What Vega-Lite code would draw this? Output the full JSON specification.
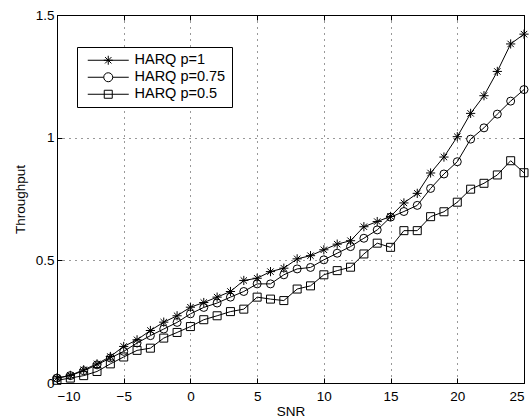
{
  "$schema": "https://vega.github.io/schema/vega-lite/v6.json",
  "autosize": "none",
  "width": 467,
  "height": 368,
  "padding": {"left": 57, "top": 15, "right": 8, "bottom": 37},
  "config": {
    "view": {"stroke": "black", "strokeWidth": 1},
    "font": "Liberation Sans",
    "axis": {
      "domainColor": "black",
      "tickColor": "black",
      "tickSize": -5,
      "labelColor": "black",
      "labelFontSize": 13.5,
      "labelFont": "Liberation Sans",
      "titleFont": "Liberation Sans",
      "titleFontSize": 13.5,
      "titleFontWeight": "normal",
      "titleColor": "black",
      "gridColor": "#333",
      "gridDash": [1, 5],
      "gridWidth": 1
    }
  },
  "data": {
    "values": [
      {"series": "HARQ p=1", "snr": -10, "throughput": 0.02},
      {"series": "HARQ p=1", "snr": -9, "throughput": 0.031},
      {"series": "HARQ p=1", "snr": -8, "throughput": 0.054},
      {"series": "HARQ p=1", "snr": -7, "throughput": 0.078},
      {"series": "HARQ p=1", "snr": -6, "throughput": 0.108},
      {"series": "HARQ p=1", "snr": -5, "throughput": 0.149},
      {"series": "HARQ p=1", "snr": -4, "throughput": 0.176},
      {"series": "HARQ p=1", "snr": -3, "throughput": 0.214},
      {"series": "HARQ p=1", "snr": -2, "throughput": 0.248},
      {"series": "HARQ p=1", "snr": -1, "throughput": 0.274},
      {"series": "HARQ p=1", "snr": 0, "throughput": 0.309},
      {"series": "HARQ p=1", "snr": 1, "throughput": 0.328},
      {"series": "HARQ p=1", "snr": 2, "throughput": 0.35},
      {"series": "HARQ p=1", "snr": 3, "throughput": 0.373},
      {"series": "HARQ p=1", "snr": 4, "throughput": 0.418},
      {"series": "HARQ p=1", "snr": 5, "throughput": 0.427},
      {"series": "HARQ p=1", "snr": 6, "throughput": 0.454},
      {"series": "HARQ p=1", "snr": 7, "throughput": 0.468},
      {"series": "HARQ p=1", "snr": 8, "throughput": 0.506},
      {"series": "HARQ p=1", "snr": 9, "throughput": 0.519},
      {"series": "HARQ p=1", "snr": 10, "throughput": 0.543},
      {"series": "HARQ p=1", "snr": 11, "throughput": 0.566},
      {"series": "HARQ p=1", "snr": 12, "throughput": 0.58},
      {"series": "HARQ p=1", "snr": 13, "throughput": 0.637},
      {"series": "HARQ p=1", "snr": 14, "throughput": 0.658},
      {"series": "HARQ p=1", "snr": 15, "throughput": 0.679},
      {"series": "HARQ p=1", "snr": 16, "throughput": 0.734},
      {"series": "HARQ p=1", "snr": 17, "throughput": 0.773},
      {"series": "HARQ p=1", "snr": 18, "throughput": 0.856},
      {"series": "HARQ p=1", "snr": 19, "throughput": 0.921},
      {"series": "HARQ p=1", "snr": 20, "throughput": 1.004},
      {"series": "HARQ p=1", "snr": 21, "throughput": 1.099},
      {"series": "HARQ p=1", "snr": 22, "throughput": 1.171},
      {"series": "HARQ p=1", "snr": 23, "throughput": 1.27},
      {"series": "HARQ p=1", "snr": 24, "throughput": 1.382},
      {"series": "HARQ p=1", "snr": 25, "throughput": 1.422},
      {"series": "HARQ p=0.75", "snr": -10, "throughput": 0.02},
      {"series": "HARQ p=0.75", "snr": -9, "throughput": 0.03},
      {"series": "HARQ p=0.75", "snr": -8, "throughput": 0.05},
      {"series": "HARQ p=0.75", "snr": -7, "throughput": 0.074},
      {"series": "HARQ p=0.75", "snr": -6, "throughput": 0.102},
      {"series": "HARQ p=0.75", "snr": -5, "throughput": 0.129},
      {"series": "HARQ p=0.75", "snr": -4, "throughput": 0.163},
      {"series": "HARQ p=0.75", "snr": -3, "throughput": 0.193},
      {"series": "HARQ p=0.75", "snr": -2, "throughput": 0.22},
      {"series": "HARQ p=0.75", "snr": -1, "throughput": 0.247},
      {"series": "HARQ p=0.75", "snr": 0, "throughput": 0.282},
      {"series": "HARQ p=0.75", "snr": 1, "throughput": 0.308},
      {"series": "HARQ p=0.75", "snr": 2, "throughput": 0.326},
      {"series": "HARQ p=0.75", "snr": 3, "throughput": 0.35},
      {"series": "HARQ p=0.75", "snr": 4, "throughput": 0.373},
      {"series": "HARQ p=0.75", "snr": 5, "throughput": 0.404},
      {"series": "HARQ p=0.75", "snr": 6, "throughput": 0.404},
      {"series": "HARQ p=0.75", "snr": 7, "throughput": 0.441},
      {"series": "HARQ p=0.75", "snr": 8, "throughput": 0.465},
      {"series": "HARQ p=0.75", "snr": 9, "throughput": 0.471},
      {"series": "HARQ p=0.75", "snr": 10, "throughput": 0.502},
      {"series": "HARQ p=0.75", "snr": 11, "throughput": 0.529},
      {"series": "HARQ p=0.75", "snr": 12, "throughput": 0.556},
      {"series": "HARQ p=0.75", "snr": 13, "throughput": 0.59},
      {"series": "HARQ p=0.75", "snr": 14, "throughput": 0.624},
      {"series": "HARQ p=0.75", "snr": 15, "throughput": 0.676},
      {"series": "HARQ p=0.75", "snr": 16, "throughput": 0.699},
      {"series": "HARQ p=0.75", "snr": 17, "throughput": 0.724},
      {"series": "HARQ p=0.75", "snr": 18, "throughput": 0.793},
      {"series": "HARQ p=0.75", "snr": 19, "throughput": 0.852},
      {"series": "HARQ p=0.75", "snr": 20, "throughput": 0.902},
      {"series": "HARQ p=0.75", "snr": 21, "throughput": 0.994},
      {"series": "HARQ p=0.75", "snr": 22, "throughput": 1.04},
      {"series": "HARQ p=0.75", "snr": 23, "throughput": 1.096},
      {"series": "HARQ p=0.75", "snr": 24, "throughput": 1.149},
      {"series": "HARQ p=0.75", "snr": 25, "throughput": 1.196},
      {"series": "HARQ p=0.5", "snr": -10, "throughput": 0.011},
      {"series": "HARQ p=0.5", "snr": -9, "throughput": 0.02},
      {"series": "HARQ p=0.5", "snr": -8, "throughput": 0.03},
      {"series": "HARQ p=0.5", "snr": -7, "throughput": 0.047},
      {"series": "HARQ p=0.5", "snr": -6, "throughput": 0.078},
      {"series": "HARQ p=0.5", "snr": -5, "throughput": 0.106},
      {"series": "HARQ p=0.5", "snr": -4, "throughput": 0.133},
      {"series": "HARQ p=0.5", "snr": -3, "throughput": 0.142},
      {"series": "HARQ p=0.5", "snr": -2, "throughput": 0.183},
      {"series": "HARQ p=0.5", "snr": -1, "throughput": 0.206},
      {"series": "HARQ p=0.5", "snr": 0, "throughput": 0.23},
      {"series": "HARQ p=0.5", "snr": 1, "throughput": 0.258},
      {"series": "HARQ p=0.5", "snr": 2, "throughput": 0.274},
      {"series": "HARQ p=0.5", "snr": 3, "throughput": 0.291},
      {"series": "HARQ p=0.5", "snr": 4, "throughput": 0.301},
      {"series": "HARQ p=0.5", "snr": 5, "throughput": 0.35},
      {"series": "HARQ p=0.5", "snr": 6, "throughput": 0.342},
      {"series": "HARQ p=0.5", "snr": 7, "throughput": 0.336},
      {"series": "HARQ p=0.5", "snr": 8, "throughput": 0.383},
      {"series": "HARQ p=0.5", "snr": 9, "throughput": 0.396},
      {"series": "HARQ p=0.5", "snr": 10, "throughput": 0.441},
      {"series": "HARQ p=0.5", "snr": 11, "throughput": 0.458},
      {"series": "HARQ p=0.5", "snr": 12, "throughput": 0.472},
      {"series": "HARQ p=0.5", "snr": 13, "throughput": 0.526},
      {"series": "HARQ p=0.5", "snr": 14, "throughput": 0.57},
      {"series": "HARQ p=0.5", "snr": 15, "throughput": 0.553},
      {"series": "HARQ p=0.5", "snr": 16, "throughput": 0.621},
      {"series": "HARQ p=0.5", "snr": 17, "throughput": 0.621},
      {"series": "HARQ p=0.5", "snr": 18, "throughput": 0.678},
      {"series": "HARQ p=0.5", "snr": 19, "throughput": 0.698},
      {"series": "HARQ p=0.5", "snr": 20, "throughput": 0.737},
      {"series": "HARQ p=0.5", "snr": 21, "throughput": 0.79},
      {"series": "HARQ p=0.5", "snr": 22, "throughput": 0.814},
      {"series": "HARQ p=0.5", "snr": 23, "throughput": 0.848},
      {"series": "HARQ p=0.5", "snr": 24, "throughput": 0.906},
      {"series": "HARQ p=0.5", "snr": 25, "throughput": 0.857}
    ]
  },
  "layer": [
    {
      "mark": {"type": "line", "color": "black", "strokeWidth": 1},
      "encoding": {
        "x": {
          "field": "snr", "type": "quantitative",
          "scale": {"domain": [-10, 25], "nice": false, "zero": false},
          "axis": {"orient": "bottom", "values": [-10, -5, 0, 5, 10, 15, 20, 25], "title": "SNR", "labelPadding": 11, "titleY": 28, "titleBaseline": "middle"}
        },
        "y": {
          "field": "throughput", "type": "quantitative",
          "scale": {"domain": [0, 1.5], "nice": false},
          "axis": {"orient": "left", "values": [0, 0.5, 1, 1.5], "format": "~g", "title": "Throughput", "labelPadding": 8, "titleX": -37, "titleY": 184, "titleBaseline": "middle"}
        },
        "detail": {"field": "series"}
      }
    },
    {
      "mark": {"type": "point", "filled": false, "color": "black", "strokeWidth": 1, "size": 64, "opacity": 1},
      "encoding": {
        "x": {
          "field": "snr", "type": "quantitative",
          "axis": {"orient": "top", "values": [-10, -5, 0, 5, 10, 15, 20, 25], "labels": false, "grid": false, "title": null}
        },
        "y": {
          "field": "throughput", "type": "quantitative",
          "axis": {"orient": "right", "values": [0, 0.5, 1, 1.5], "labels": false, "grid": false, "title": null}
        },
        "shape": {
          "field": "series", "type": "nominal",
          "scale": {
            "domain": ["HARQ p=1", "HARQ p=0.75", "HARQ p=0.5"],
            "range": ["M-1.15,0L1.15,0M0,-1.15L0,1.15M-0.8,-0.8L0.8,0.8M-0.8,0.8L0.8,-0.8", "circle", "square"]
          },
          "legend": null
        }
      }
    },
    {
      "transform": [{"filter": "false"}],
      "mark": {"type": "point", "filled": false, "color": "black", "strokeWidth": 1, "size": 100},
      "encoding": {
        "x": {"field": "snr", "type": "quantitative", "axis": null},
        "y": {"field": "throughput", "type": "quantitative", "axis": null},
        "shape": {
          "field": "series", "type": "nominal",
          "scale": {
            "domain": ["HARQ p=1", "HARQ p=0.75", "HARQ p=0.5"],
            "range": [
              "M-4.1,0L4.1,0M-0.9,0L0.9,0M0,-0.9L0,0.9M-0.64,-0.64L0.64,0.64M-0.64,0.64L0.64,-0.64",
              "M-4.1,0L-0.9,0M0.9,0L4.1,0M0.9,0A0.9,0.9 0 1,1 -0.9,0A0.9,0.9 0 1,1 0.9,0",
              "M-4.1,0L4.1,0M-0.8,-0.8L0.8,-0.8L0.8,0.8L-0.8,0.8Z"
            ]
          },
          "legend": {
            "orient": "none",
            "legendX": 20,
            "legendY": 32,
            "title": null,
            "padding": 6,
            "symbolOffset": 18,
            "labelOffset": 19,
            "rowPadding": 2,
            "symbolSize": 100,
            "strokeColor": "black",
            "fillColor": "white",
            "labelFontSize": 14.5,
            "labelFont": "Liberation Sans",
            "labelColor": "black",
            "symbolStrokeColor": "black",
            "symbolStrokeWidth": 1,
            "symbolFillColor": "transparent",
            "symbolOpacity": 1
          }
        }
      }
    }
  ],
  "resolve": {"axis": {"x": "independent", "y": "independent"}, "scale": {"shape": "independent"}}
}
